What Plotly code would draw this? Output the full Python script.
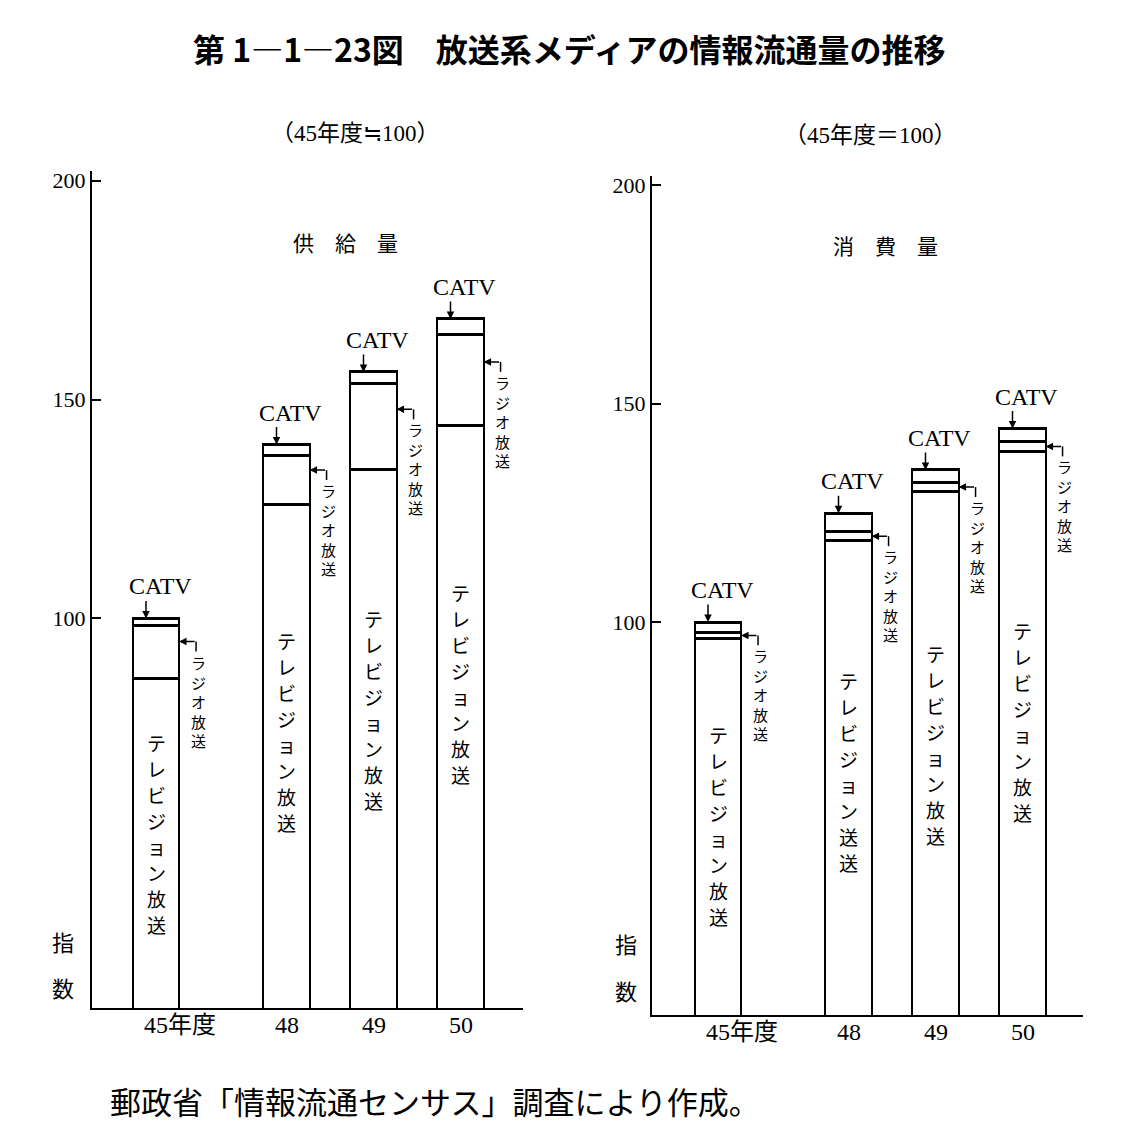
import plotly.graph_objects as go

# ---------------- data ----------------
years = ["45年度", "48", "49", "50"]

supply_tv = [86.3, 125.9, 134.1, 144.1]
supply_radio = [12.0, 11.4, 19.5, 20.7]
supply_catv = [1.7, 2.4, 2.7, 3.6]

cons_tv = [96.2, 118.6, 129.8, 139.0]
cons_radio = [1.5, 2.1, 2.2, 2.4]
cons_catv = [2.3, 4.2, 2.8, 2.9]

supply_tv_text = ["テレビジョン放送", "テレビジョン放送", "テレビジョン放送", "テレビジョン放送"]
cons_tv_text = ["テレビジョン放送", "テレビジョン送送", "テレビジョン放送", "テレビジョン放送"]
radio_text = "ラジオ放送"

y_ticks = [100, 150, 200]

# ---------------- layout helpers ----------------
slot = [0, 1.5, 2.5, 3.5]       # horizontal slots of the bars
BAR_W = 0.53
PX_X = 87.0                      # px per x unit
PX_Y = 4.39                      # px per y unit
W, H = 1125, 1145
TV_PITCH = 26                    # px between stacked characters

SERIF = "Liberation Serif, Noto Sans CJK JP, serif"
CJK = "Noto Sans CJK JP, sans-serif"

fig = go.Figure()
annotations = []
shapes = []


def vtext(s):
    return "<br>".join(list(s))


def panel(xa, ya, tv, radio, catv, tv_text, tv_frac, radio_frac, y_bottom):
    xref = xa
    yref = ya
    for vals in (tv, radio, catv):
        fig.add_trace(go.Bar(
            x=slot, y=vals, width=BAR_W,
            marker=dict(color="white", line=dict(color="black", width=2.5)),
            xaxis=xa, yaxis=ya, hoverinfo="skip",
        ))
    for i in range(len(slot)):
        p = slot[i]
        total = tv[i] + radio[i] + catv[i]
        # CATV label and arrow
        annotations.append(dict(x=p, y=total, xref=xref, yref=yref, text="CATV",
                                showarrow=False, yanchor="middle", yshift=32, xshift=4,
                                font=dict(family=SERIF, size=24, color="black")))
        annotations.append(dict(x=p, y=total, xref=xref, yref=yref, text="",
                                showarrow=True, ax=0, ay=-19, xshift=-10,
                                arrowhead=2, arrowsize=1, arrowwidth=1.5, arrowcolor="black"))
        # radio leader
        edge = p + BAR_W / 2
        ly = tv[i] + radio[i] * radio_frac
        annotations.append(dict(x=edge, y=ly, xref=xref, yref=yref, text="",
                                showarrow=True, ax=17, ay=0,
                                arrowhead=2, arrowsize=1, arrowwidth=1.5, arrowcolor="black"))
        shapes.append(dict(type="line", xref=xref, yref=yref,
                           x0=edge + 17 / PX_X, x1=edge + 17 / PX_X,
                           y0=ly, y1=ly - 10 / PX_Y,
                           line=dict(color="black", width=1.5)))
        annotations.append(dict(x=edge, y=ly, xref=xref, yref=yref, text=vtext(radio_text),
                                showarrow=False, xanchor="center", yanchor="top",
                                xshift=19, yshift=-8,
                                font=dict(family=CJK, size=15, color="black")))
        # TV label inside bar, one character per line
        chars = list(tv_text[i])
        n = len(chars)
        for j, ch in enumerate(chars):
            annotations.append(dict(x=p, y=tv[i] * tv_frac, xref=xref, yref=yref,
                                    text=ch, showarrow=False,
                                    xanchor="center", yanchor="middle",
                                    yshift=((n - 1) / 2 - j) * TV_PITCH,
                                    font=dict(family=CJK, size=19, color="black")))
        # category label
        lab = dict(x=p, y=y_bottom, xref=xref, yref=yref, text=years[i],
                   showarrow=False, yanchor="top", yshift=-2,
                   font=dict(family=SERIF, size=24, color="black"))
        if i == 0:
            lab.update(xanchor="left", xshift=-14)
        annotations.append(lab)


L_BOTTOM, L_TOP = 10.93, 202.3
R_BOTTOM, R_TOP = 9.98, 202.2
panel("x", "y", supply_tv, supply_radio, supply_catv, supply_tv_text, 0.59, 0.70, L_BOTTOM)
panel("x2", "y2", cons_tv, cons_radio, cons_catv, cons_tv_text, 0.555, 0.5, R_BOTTOM)

axis_common = dict(showgrid=False, zeroline=False, showline=True, linecolor="black",
                   linewidth=2)

fig.update_layout(
    width=W, height=H,
    margin=dict(l=0, r=0, t=0, b=0),
    paper_bgcolor="white", plot_bgcolor="white",
    showlegend=False, barmode="stack", bargap=0,
    xaxis=dict(domain=[92 / W, 523 / W], range=[-(156 - 92) / PX_X, (523 - 156) / PX_X],
               showticklabels=False, ticks="", anchor="y", **axis_common),
    yaxis=dict(domain=[1 - 1008 / H, 1 - 168 / H], range=[L_BOTTOM, L_TOP],
               tickvals=y_ticks, ticks="inside", ticklen=9, tickwidth=1.5, tickcolor="black",
               tickfont=dict(family=SERIF, size=22, color="black"), anchor="x",
               **axis_common),
    xaxis2=dict(domain=[652 / W, 1083 / W], range=[-(718 - 652) / PX_X, (1083 - 718) / PX_X],
                showticklabels=False, ticks="", anchor="y2", **axis_common),
    yaxis2=dict(domain=[1 - 1015 / H, 1 - 173 / H], range=[R_BOTTOM, R_TOP],
                tickvals=y_ticks, ticks="inside", ticklen=9, tickwidth=1.5, tickcolor="black",
                tickfont=dict(family=SERIF, size=22, color="black"), anchor="x2",
                **axis_common),
)


def paper_text(x, y, text, size, family=CJK, xanchor="center", bold=False):
    if bold:
        text = "<b>" + text + "</b>"
    annotations.append(dict(x=x / W, y=1 - y / H, xref="paper", yref="paper", text=text,
                            showarrow=False, xanchor=xanchor, yanchor="middle",
                            font=dict(family=family, size=size, color="black")))


paper_text(569, 45, "第 1―1―23図　放送系メディアの情報流通量の推移", 32, bold=True)
paper_text(355, 131, "（45年度≒100）", 23, family=SERIF)
paper_text(870, 133, "（45年度＝100）", 23, family=SERIF)
paper_text(345, 240, "供　給　量", 21)
paper_text(885, 243, "消　費　量", 21)
paper_text(63, 940, "指", 22)
paper_text(63, 987, "数", 22)
paper_text(626, 942, "指", 22)
paper_text(626, 990, "数", 22)
paper_text(108, 1100, "郵政省「情報流通センサス」調査により作成。", 31, xanchor="left")

fig.update_layout(annotations=annotations, shapes=shapes)
fig.write_html("out.html")
